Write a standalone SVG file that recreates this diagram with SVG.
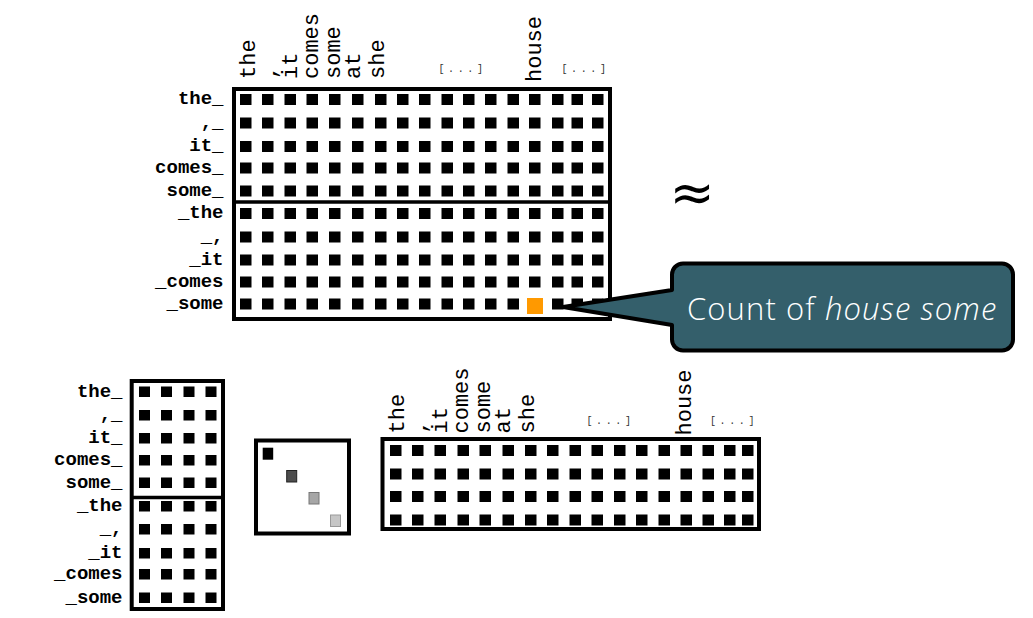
<svg xmlns="http://www.w3.org/2000/svg" width="1033" height="618" viewBox="0 0 1033 618">
<style>
.frame{fill:none;stroke:#000;stroke-width:4}
.div{stroke:#000;stroke-width:3.5}
.sq{fill:#000}
.col{font-family:"Liberation Mono",monospace;font-size:22px;fill:#000}
.row{font-family:"Liberation Mono",monospace;font-size:19px;font-weight:bold;fill:#000;text-anchor:end}
.dots{font-family:"Liberation Mono",monospace;font-size:10px;letter-spacing:3.6px;fill:#333;text-anchor:middle}
.call{fill:#345f6b;stroke:#000;stroke-width:4;stroke-linejoin:round}
.ctext{font-family:"Open Sans","Lato",sans-serif;font-weight:300;font-size:31px;letter-spacing:1.1px;fill:#fff}
</style>
<rect width="1033" height="618" fill="#fff"/>

<g id="top-matrix">
<g class="col">
<text transform="translate(255,79) rotate(-90)">the</text>
<text transform="translate(275.5,79) rotate(-90)">,</text>
<text transform="translate(296.5,79) rotate(-90)">it</text>
<text transform="translate(318,79) rotate(-90)">comes</text>
<text transform="translate(340,79) rotate(-90)">some</text>
<text transform="translate(360,79) rotate(-90)">at</text>
<text transform="translate(383.5,79) rotate(-90)">she</text>
<text transform="translate(540.5,82) rotate(-90)">house</text>
</g>
<text class="dots" x="462.5" y="72">[...]</text>
<text class="dots" x="585.5" y="72">[...]</text>
<g class="row">
<text x="223.5" y="104">the_</text>
<text x="223.5" y="127.5">,_</text>
<text x="223.5" y="151">it_</text>
<text x="223.5" y="172.5">comes_</text>
<text x="223.5" y="195.5">some_</text>
<text x="223.5" y="218">_the</text>
<text x="223.5" y="241.5">_,</text>
<text x="223.5" y="264.5">_it</text>
<text x="223.5" y="286.5">_comes</text>
<text x="223.5" y="308.5">_some</text>
</g>
<rect class="frame" x="234" y="89" width="376" height="230"/>
<line class="div" x1="234" y1="202" x2="610" y2="202"/>
<g class="sq">
<rect x="240" y="94" width="11.5" height="11"/><rect x="262" y="94" width="11.5" height="11"/><rect x="284.5" y="94" width="11.5" height="11"/><rect x="306.5" y="94" width="11.5" height="11"/><rect x="329" y="94" width="11.5" height="11"/><rect x="352" y="94" width="11.5" height="11"/><rect x="375" y="94" width="11.5" height="11"/><rect x="397" y="94" width="11.5" height="11"/><rect x="419" y="94" width="11.5" height="11"/><rect x="441.5" y="94" width="11.5" height="11"/><rect x="463" y="94" width="11.5" height="11"/><rect x="485" y="94" width="11.5" height="11"/><rect x="507.5" y="94" width="11.5" height="11"/><rect x="529" y="94" width="11.5" height="11"/><rect x="552" y="94" width="11.5" height="11"/><rect x="571.5" y="94" width="11.5" height="11"/><rect x="592" y="94" width="11.5" height="11"/>
<rect x="240" y="117.5" width="11.5" height="11"/><rect x="262" y="117.5" width="11.5" height="11"/><rect x="284.5" y="117.5" width="11.5" height="11"/><rect x="306.5" y="117.5" width="11.5" height="11"/><rect x="329" y="117.5" width="11.5" height="11"/><rect x="352" y="117.5" width="11.5" height="11"/><rect x="375" y="117.5" width="11.5" height="11"/><rect x="397" y="117.5" width="11.5" height="11"/><rect x="419" y="117.5" width="11.5" height="11"/><rect x="441.5" y="117.5" width="11.5" height="11"/><rect x="463" y="117.5" width="11.5" height="11"/><rect x="485" y="117.5" width="11.5" height="11"/><rect x="507.5" y="117.5" width="11.5" height="11"/><rect x="529" y="117.5" width="11.5" height="11"/><rect x="552" y="117.5" width="11.5" height="11"/><rect x="571.5" y="117.5" width="11.5" height="11"/><rect x="592" y="117.5" width="11.5" height="11"/>
<rect x="240" y="141" width="11.5" height="11"/><rect x="262" y="141" width="11.5" height="11"/><rect x="284.5" y="141" width="11.5" height="11"/><rect x="306.5" y="141" width="11.5" height="11"/><rect x="329" y="141" width="11.5" height="11"/><rect x="352" y="141" width="11.5" height="11"/><rect x="375" y="141" width="11.5" height="11"/><rect x="397" y="141" width="11.5" height="11"/><rect x="419" y="141" width="11.5" height="11"/><rect x="441.5" y="141" width="11.5" height="11"/><rect x="463" y="141" width="11.5" height="11"/><rect x="485" y="141" width="11.5" height="11"/><rect x="507.5" y="141" width="11.5" height="11"/><rect x="529" y="141" width="11.5" height="11"/><rect x="552" y="141" width="11.5" height="11"/><rect x="571.5" y="141" width="11.5" height="11"/><rect x="592" y="141" width="11.5" height="11"/>
<rect x="240" y="162.5" width="11.5" height="11"/><rect x="262" y="162.5" width="11.5" height="11"/><rect x="284.5" y="162.5" width="11.5" height="11"/><rect x="306.5" y="162.5" width="11.5" height="11"/><rect x="329" y="162.5" width="11.5" height="11"/><rect x="352" y="162.5" width="11.5" height="11"/><rect x="375" y="162.5" width="11.5" height="11"/><rect x="397" y="162.5" width="11.5" height="11"/><rect x="419" y="162.5" width="11.5" height="11"/><rect x="441.5" y="162.5" width="11.5" height="11"/><rect x="463" y="162.5" width="11.5" height="11"/><rect x="485" y="162.5" width="11.5" height="11"/><rect x="507.5" y="162.5" width="11.5" height="11"/><rect x="529" y="162.5" width="11.5" height="11"/><rect x="552" y="162.5" width="11.5" height="11"/><rect x="571.5" y="162.5" width="11.5" height="11"/><rect x="592" y="162.5" width="11.5" height="11"/>
<rect x="240" y="185.5" width="11.5" height="11"/><rect x="262" y="185.5" width="11.5" height="11"/><rect x="284.5" y="185.5" width="11.5" height="11"/><rect x="306.5" y="185.5" width="11.5" height="11"/><rect x="329" y="185.5" width="11.5" height="11"/><rect x="352" y="185.5" width="11.5" height="11"/><rect x="375" y="185.5" width="11.5" height="11"/><rect x="397" y="185.5" width="11.5" height="11"/><rect x="419" y="185.5" width="11.5" height="11"/><rect x="441.5" y="185.5" width="11.5" height="11"/><rect x="463" y="185.5" width="11.5" height="11"/><rect x="485" y="185.5" width="11.5" height="11"/><rect x="507.5" y="185.5" width="11.5" height="11"/><rect x="529" y="185.5" width="11.5" height="11"/><rect x="552" y="185.5" width="11.5" height="11"/><rect x="571.5" y="185.5" width="11.5" height="11"/><rect x="592" y="185.5" width="11.5" height="11"/>
<rect x="240" y="208" width="11.5" height="11"/><rect x="262" y="208" width="11.5" height="11"/><rect x="284.5" y="208" width="11.5" height="11"/><rect x="306.5" y="208" width="11.5" height="11"/><rect x="329" y="208" width="11.5" height="11"/><rect x="352" y="208" width="11.5" height="11"/><rect x="375" y="208" width="11.5" height="11"/><rect x="397" y="208" width="11.5" height="11"/><rect x="419" y="208" width="11.5" height="11"/><rect x="441.5" y="208" width="11.5" height="11"/><rect x="463" y="208" width="11.5" height="11"/><rect x="485" y="208" width="11.5" height="11"/><rect x="507.5" y="208" width="11.5" height="11"/><rect x="529" y="208" width="11.5" height="11"/><rect x="552" y="208" width="11.5" height="11"/><rect x="571.5" y="208" width="11.5" height="11"/><rect x="592" y="208" width="11.5" height="11"/>
<rect x="240" y="231.5" width="11.5" height="11"/><rect x="262" y="231.5" width="11.5" height="11"/><rect x="284.5" y="231.5" width="11.5" height="11"/><rect x="306.5" y="231.5" width="11.5" height="11"/><rect x="329" y="231.5" width="11.5" height="11"/><rect x="352" y="231.5" width="11.5" height="11"/><rect x="375" y="231.5" width="11.5" height="11"/><rect x="397" y="231.5" width="11.5" height="11"/><rect x="419" y="231.5" width="11.5" height="11"/><rect x="441.5" y="231.5" width="11.5" height="11"/><rect x="463" y="231.5" width="11.5" height="11"/><rect x="485" y="231.5" width="11.5" height="11"/><rect x="507.5" y="231.5" width="11.5" height="11"/><rect x="529" y="231.5" width="11.5" height="11"/><rect x="552" y="231.5" width="11.5" height="11"/><rect x="571.5" y="231.5" width="11.5" height="11"/><rect x="592" y="231.5" width="11.5" height="11"/>
<rect x="240" y="254.5" width="11.5" height="11"/><rect x="262" y="254.5" width="11.5" height="11"/><rect x="284.5" y="254.5" width="11.5" height="11"/><rect x="306.5" y="254.5" width="11.5" height="11"/><rect x="329" y="254.5" width="11.5" height="11"/><rect x="352" y="254.5" width="11.5" height="11"/><rect x="375" y="254.5" width="11.5" height="11"/><rect x="397" y="254.5" width="11.5" height="11"/><rect x="419" y="254.5" width="11.5" height="11"/><rect x="441.5" y="254.5" width="11.5" height="11"/><rect x="463" y="254.5" width="11.5" height="11"/><rect x="485" y="254.5" width="11.5" height="11"/><rect x="507.5" y="254.5" width="11.5" height="11"/><rect x="529" y="254.5" width="11.5" height="11"/><rect x="552" y="254.5" width="11.5" height="11"/><rect x="571.5" y="254.5" width="11.5" height="11"/><rect x="592" y="254.5" width="11.5" height="11"/>
<rect x="240" y="276.5" width="11.5" height="11"/><rect x="262" y="276.5" width="11.5" height="11"/><rect x="284.5" y="276.5" width="11.5" height="11"/><rect x="306.5" y="276.5" width="11.5" height="11"/><rect x="329" y="276.5" width="11.5" height="11"/><rect x="352" y="276.5" width="11.5" height="11"/><rect x="375" y="276.5" width="11.5" height="11"/><rect x="397" y="276.5" width="11.5" height="11"/><rect x="419" y="276.5" width="11.5" height="11"/><rect x="441.5" y="276.5" width="11.5" height="11"/><rect x="463" y="276.5" width="11.5" height="11"/><rect x="485" y="276.5" width="11.5" height="11"/><rect x="507.5" y="276.5" width="11.5" height="11"/><rect x="529" y="276.5" width="11.5" height="11"/><rect x="552" y="276.5" width="11.5" height="11"/><rect x="571.5" y="276.5" width="11.5" height="11"/><rect x="592" y="276.5" width="11.5" height="11"/>
<rect x="240" y="298.5" width="11.5" height="11"/><rect x="262" y="298.5" width="11.5" height="11"/><rect x="284.5" y="298.5" width="11.5" height="11"/><rect x="306.5" y="298.5" width="11.5" height="11"/><rect x="329" y="298.5" width="11.5" height="11"/><rect x="352" y="298.5" width="11.5" height="11"/><rect x="375" y="298.5" width="11.5" height="11"/><rect x="397" y="298.5" width="11.5" height="11"/><rect x="419" y="298.5" width="11.5" height="11"/><rect x="441.5" y="298.5" width="11.5" height="11"/><rect x="463" y="298.5" width="11.5" height="11"/><rect x="485" y="298.5" width="11.5" height="11"/><rect x="507.5" y="298.5" width="11.5" height="11"/><rect x="552" y="298.5" width="11.5" height="11"/><rect x="571.5" y="298.5" width="11.5" height="11"/><rect x="592" y="298.5" width="11.5" height="11"/>
</g>
<rect x="527" y="298" width="16" height="16" fill="#ff9900"/>
</g>

<g id="approx">
<text x="692" y="211" font-family="DejaVu Sans, sans-serif" font-size="54" text-anchor="middle" fill="#000">≈</text>
</g>

<g id="callout">
<path class="call" d="M683,263.5 H1002 A11,11 0 0 1 1013,274.5 V339.5 A11,11 0 0 1 1002,350.5 H683 A11,11 0 0 1 672,339.5 V325 L563,307 L672,290 V274.5 A11,11 0 0 1 683,263.5 Z"/>
<text class="ctext" x="687" y="319.5">Count of <tspan font-style="italic">house some</tspan></text>
</g>

<g id="bottom-left-matrix">
<g class="row">
<text x="122.5" y="396.5">the_</text>
<text x="122.5" y="420">,_</text>
<text x="122.5" y="443">it_</text>
<text x="122.5" y="465">comes_</text>
<text x="122.5" y="487.5">some_</text>
<text x="122.5" y="511">_the</text>
<text x="122.5" y="534">_,</text>
<text x="122.5" y="558">_it</text>
<text x="122.5" y="579">_comes</text>
<text x="122.5" y="602.5">_some</text>
</g>
<rect class="frame" x="131.7" y="381" width="91.3" height="228"/>
<line class="div" x1="131.7" y1="497.5" x2="223" y2="497.5"/>
<g class="sq">
<rect x="139" y="386.5" width="11" height="10.5"/><rect x="161" y="386.5" width="11" height="10.5"/><rect x="183.5" y="386.5" width="11" height="10.5"/><rect x="205.5" y="386.5" width="11" height="10.5"/>
<rect x="139" y="410" width="11" height="10.5"/><rect x="161" y="410" width="11" height="10.5"/><rect x="183.5" y="410" width="11" height="10.5"/><rect x="205.5" y="410" width="11" height="10.5"/>
<rect x="139" y="433" width="11" height="10.5"/><rect x="161" y="433" width="11" height="10.5"/><rect x="183.5" y="433" width="11" height="10.5"/><rect x="205.5" y="433" width="11" height="10.5"/>
<rect x="139" y="455" width="11" height="10.5"/><rect x="161" y="455" width="11" height="10.5"/><rect x="183.5" y="455" width="11" height="10.5"/><rect x="205.5" y="455" width="11" height="10.5"/>
<rect x="139" y="477.5" width="11" height="10.5"/><rect x="161" y="477.5" width="11" height="10.5"/><rect x="183.5" y="477.5" width="11" height="10.5"/><rect x="205.5" y="477.5" width="11" height="10.5"/>
<rect x="139" y="501" width="11" height="10.5"/><rect x="161" y="501" width="11" height="10.5"/><rect x="183.5" y="501" width="11" height="10.5"/><rect x="205.5" y="501" width="11" height="10.5"/>
<rect x="139" y="524" width="11" height="10.5"/><rect x="161" y="524" width="11" height="10.5"/><rect x="183.5" y="524" width="11" height="10.5"/><rect x="205.5" y="524" width="11" height="10.5"/>
<rect x="139" y="548" width="11" height="10.5"/><rect x="161" y="548" width="11" height="10.5"/><rect x="183.5" y="548" width="11" height="10.5"/><rect x="205.5" y="548" width="11" height="10.5"/>
<rect x="139" y="569" width="11" height="10.5"/><rect x="161" y="569" width="11" height="10.5"/><rect x="183.5" y="569" width="11" height="10.5"/><rect x="205.5" y="569" width="11" height="10.5"/>
<rect x="139" y="592.5" width="11" height="10.5"/><rect x="161" y="592.5" width="11" height="10.5"/><rect x="183.5" y="592.5" width="11" height="10.5"/><rect x="205.5" y="592.5" width="11" height="10.5"/>
</g>
</g>

<g id="diag-matrix">
<rect class="frame" x="256" y="440.5" width="93" height="93"/>
<rect x="262.7" y="447.7" width="10.5" height="12" fill="#000"/>
<rect x="286.7" y="470.5" width="10" height="11.5" fill="#4d4d4d" stroke="#222" stroke-width="1"/>
<rect x="309" y="492.5" width="10" height="11.5" fill="#a6a6a6" stroke="#777" stroke-width="1"/>
<rect x="330.5" y="515" width="10" height="11.5" fill="#c6c6c6" stroke="#999" stroke-width="1"/>
</g>

<g id="bottom-right-matrix">
<g class="col">
<text transform="translate(404,433.5) rotate(-90)">the</text>
<text transform="translate(425.5,433.5) rotate(-90)">,</text>
<text transform="translate(446.5,433.5) rotate(-90)">it</text>
<text transform="translate(468,433.5) rotate(-90)">comes</text>
<text transform="translate(490,433.5) rotate(-90)">some</text>
<text transform="translate(510,433.5) rotate(-90)">at</text>
<text transform="translate(533.5,433.5) rotate(-90)">she</text>
<text transform="translate(690.5,435.5) rotate(-90)">house</text>
</g>
<text class="dots" x="610.5" y="424">[...]</text>
<text class="dots" x="734" y="424">[...]</text>
<rect class="frame" x="382.5" y="439" width="376.5" height="90"/>
<g class="sq">
<rect x="390" y="445" width="11.5" height="11"/><rect x="412" y="445" width="11.5" height="11"/><rect x="434.5" y="445" width="11.5" height="11"/><rect x="457.5" y="445" width="11.5" height="11"/><rect x="479.5" y="445" width="11.5" height="11"/><rect x="502.5" y="445" width="11.5" height="11"/><rect x="525" y="445" width="11.5" height="11"/><rect x="547" y="445" width="11.5" height="11"/><rect x="569.5" y="445" width="11.5" height="11"/><rect x="591.5" y="445" width="11.5" height="11"/><rect x="614" y="445" width="11.5" height="11"/><rect x="636" y="445" width="11.5" height="11"/><rect x="658.5" y="445" width="11.5" height="11"/><rect x="680.5" y="445" width="11.5" height="11"/><rect x="702.5" y="445" width="11.5" height="11"/><rect x="724" y="445" width="11.5" height="11"/><rect x="742" y="445" width="11.5" height="11"/>
<rect x="390" y="468.5" width="11.5" height="11"/><rect x="412" y="468.5" width="11.5" height="11"/><rect x="434.5" y="468.5" width="11.5" height="11"/><rect x="457.5" y="468.5" width="11.5" height="11"/><rect x="479.5" y="468.5" width="11.5" height="11"/><rect x="502.5" y="468.5" width="11.5" height="11"/><rect x="525" y="468.5" width="11.5" height="11"/><rect x="547" y="468.5" width="11.5" height="11"/><rect x="569.5" y="468.5" width="11.5" height="11"/><rect x="591.5" y="468.5" width="11.5" height="11"/><rect x="614" y="468.5" width="11.5" height="11"/><rect x="636" y="468.5" width="11.5" height="11"/><rect x="658.5" y="468.5" width="11.5" height="11"/><rect x="680.5" y="468.5" width="11.5" height="11"/><rect x="702.5" y="468.5" width="11.5" height="11"/><rect x="724" y="468.5" width="11.5" height="11"/><rect x="742" y="468.5" width="11.5" height="11"/>
<rect x="390" y="491" width="11.5" height="11"/><rect x="412" y="491" width="11.5" height="11"/><rect x="434.5" y="491" width="11.5" height="11"/><rect x="457.5" y="491" width="11.5" height="11"/><rect x="479.5" y="491" width="11.5" height="11"/><rect x="502.5" y="491" width="11.5" height="11"/><rect x="525" y="491" width="11.5" height="11"/><rect x="547" y="491" width="11.5" height="11"/><rect x="569.5" y="491" width="11.5" height="11"/><rect x="591.5" y="491" width="11.5" height="11"/><rect x="614" y="491" width="11.5" height="11"/><rect x="636" y="491" width="11.5" height="11"/><rect x="658.5" y="491" width="11.5" height="11"/><rect x="680.5" y="491" width="11.5" height="11"/><rect x="702.5" y="491" width="11.5" height="11"/><rect x="724" y="491" width="11.5" height="11"/><rect x="742" y="491" width="11.5" height="11"/>
<rect x="390" y="514.5" width="11.5" height="11"/><rect x="412" y="514.5" width="11.5" height="11"/><rect x="434.5" y="514.5" width="11.5" height="11"/><rect x="457.5" y="514.5" width="11.5" height="11"/><rect x="479.5" y="514.5" width="11.5" height="11"/><rect x="502.5" y="514.5" width="11.5" height="11"/><rect x="525" y="514.5" width="11.5" height="11"/><rect x="547" y="514.5" width="11.5" height="11"/><rect x="569.5" y="514.5" width="11.5" height="11"/><rect x="591.5" y="514.5" width="11.5" height="11"/><rect x="614" y="514.5" width="11.5" height="11"/><rect x="636" y="514.5" width="11.5" height="11"/><rect x="658.5" y="514.5" width="11.5" height="11"/><rect x="680.5" y="514.5" width="11.5" height="11"/><rect x="702.5" y="514.5" width="11.5" height="11"/><rect x="724" y="514.5" width="11.5" height="11"/><rect x="742" y="514.5" width="11.5" height="11"/>
</g>
</g>
</svg>
